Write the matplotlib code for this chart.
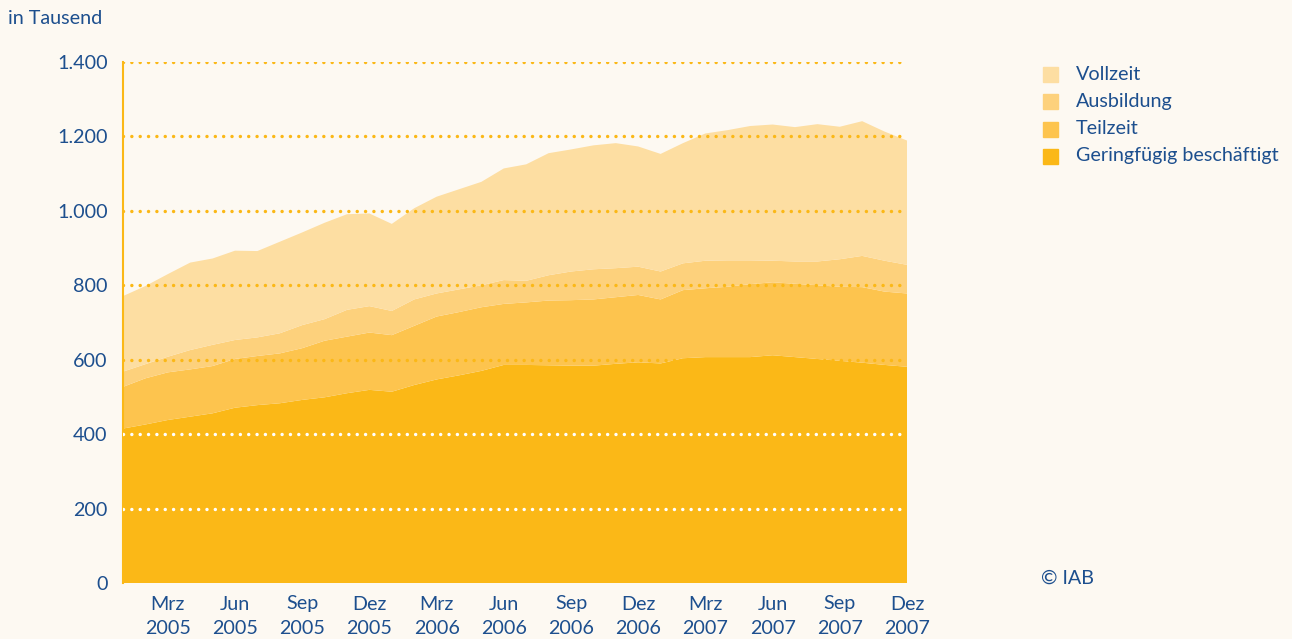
import numpy as np
import matplotlib.pyplot as plt
from matplotlib.patches import Rectangle

plt.rcParams['font.family'] = ['Lato', 'DejaVu Sans']
plt.rcParams['lines.scale_dashes'] = False

# monatliche Werte Jan 2005 - Dez 2007, in Tausend
geringfuegig = [415, 426, 438, 447, 456, 471, 478, 483, 492, 499, 510, 519,
                514, 532, 547, 558, 570, 586, 586, 585, 584, 584, 589, 593,
                590, 604, 607, 607, 607, 612, 607, 602, 597, 592, 586, 581]
teilzeit = [112, 124, 128, 127, 127, 131, 132, 134, 139, 152, 152, 154,
            152, 159, 169, 170, 171, 164, 168, 174, 176, 178, 179, 181,
            172, 183, 185, 189, 196, 196, 197, 198, 199, 203, 197, 197]
ausbildung = [41, 38, 42, 52, 57, 51, 50, 54, 62, 58, 72, 71,
              65, 71, 62, 61, 59, 64, 58, 68, 77, 81, 78, 76,
              75, 72, 74, 71, 64, 58, 60, 64, 74, 84, 83, 77]
vollzeit = [203, 210, 222, 235, 232, 240, 232, 246, 249, 259, 257, 249,
            234, 245, 260, 269, 278, 300, 313, 328, 328, 333, 336, 323,
            316, 323, 342, 350, 361, 366, 361, 369, 356, 362, 347, 334]

series = ['Geringfügig beschäftigt', 'Teilzeit', 'Ausbildung', 'Vollzeit']
farben = ['#FBB817', '#FDC44E', '#FDD17C', '#FDDEA2']
monate = ['Mrz', 'Jun', 'Sep', 'Dez']
jahre = ['2005', '2006', '2007']
yticks = [0, 200, 400, 600, 800, 1000, 1200, 1400]

blau = '#1D4F8E'
bg = '#FDF9F2'
fs = 14.2

fig = plt.figure(figsize=(12.92, 6.39), dpi=100, facecolor=bg)
ax = fig.add_axes([123 / 1292, 1 - 583 / 639, (907 - 123) / 1292, (583 - 62) / 639])
ax.set_facecolor(bg)

x = np.arange(len(vollzeit))
ax.stackplot(x, geringfuegig, teilzeit, ausbildung, vollzeit,
             colors=farben, linewidth=0)

# gepunktete Gitterlinien
for v in yticks[1:]:
    col = 'white' if v <= 400 else '#FBB817'
    ax.axhline(v, color=col, linewidth=2.5, linestyle=(0, (0.01, 6)),
               dash_capstyle='round', zorder=3)

ax.set_xlim(0, len(x) - 1)
ax.set_ylim(0, 1400)

for s in ['top', 'right', 'bottom']:
    ax.spines[s].set_visible(False)
ax.spines['left'].set_color('#FBB817')
ax.spines['left'].set_linewidth(1.5)

ax.set_yticks(yticks)
ax.set_yticklabels([f'{v:,}'.replace(',', '.') for v in yticks],
                   fontsize=fs, color=blau)
ax.tick_params(axis='y', length=0, pad=11)

xt = list(range(2, 36, 3))
xl = [f'{m}\n{j}' for j in jahre for m in monate]
ax.set_xticks(xt)
ax.set_xticklabels(xl, fontsize=fs, color=blau, linespacing=1.5)
ax.tick_params(axis='x', length=0, pad=9)

fig.text(8 / 1292, 1 - 18 / 639, 'in Tausend', fontsize=fs, color=blau,
         va='center', ha='left')

# Legende
for i, name in enumerate(series[::-1]):
    yy = 74 + 27.3 * i
    fig.patches.append(Rectangle((1043 / 1292, 1 - (yy + 8) / 639), 15 / 1292, 15 / 639,
                                 transform=fig.transFigure, color=farben[::-1][i]))
    fig.text(1076 / 1292, 1 - yy / 639, name, fontsize=fs, color=blau,
             va='center', ha='left')

fig.text(1041 / 1292, 1 - 578 / 639, '© IAB', fontsize=fs, color=blau,
         va='center', ha='left')

fig.savefig('out.png', dpi=100, facecolor=bg)
